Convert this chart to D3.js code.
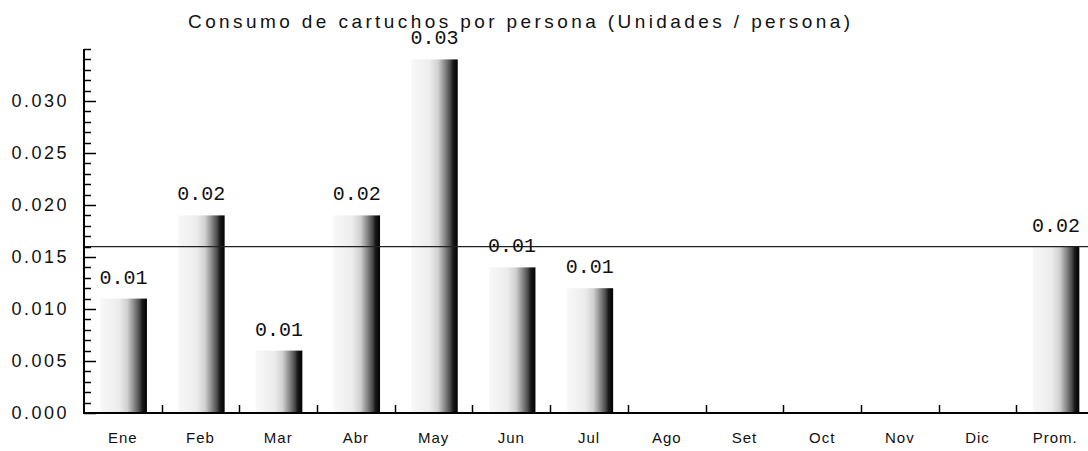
<!DOCTYPE html>
<html>
<head>
<meta charset="utf-8">
<script src="https://cdn.jsdelivr.net/npm/d3@7"></script>
<style>
  html, body { margin: 0; padding: 0; background: #fff; }
  svg { display: block; }
</style>
</head>
<body>
<svg id="chart" width="1088" height="451"></svg>
<script>
const categories = ["Ene","Feb","Mar","Abr","May","Jun","Jul","Ago","Set","Oct","Nov","Dic","Prom."];
const values = [0.011, 0.019, 0.006, 0.019, 0.034, 0.014, 0.012, null, null, null, null, null, 0.016];
const averageValue = [0.016];
const yMajorTicks = [0, 0.005, 0.010, 0.015, 0.020, 0.025, 0.030];
const yTickLabels = ["0.000","0.005","0.010","0.015","0.020","0.025","0.030"];
const titleText = "Consumo de cartuchos por persona (Unidades / persona)";

const svg = d3.select("#chart");
const left = 84, baseY = 413, topY = 49;
const bandW = 77.7;

const x = d3.scaleBand().domain(categories).range([left, left + categories.length * bandW]).padding(0);
const y = d3.scaleLinear().domain([0, 0.035]).range([baseY, topY]);

// gradient
const defs = svg.append("defs");
const grad = defs.append("linearGradient").attr("id", "barGrad").attr("x1", "0%").attr("x2", "100%").attr("y1", "0%").attr("y2", "0%");
[[0, "#f8f8f8"], [0.4, "#ececec"], [0.58, "#d0d0d0"], [0.72, "#8a8a8a"], [0.84, "#4a4a4a"], [0.9, "#1a1a1a"], [1, "#000"]]
  .forEach(([o, c]) => grad.append("stop").attr("offset", o).attr("stop-color", c));

// title
svg.append("text")
  .attr("x", 519).attr("y", 28)
  .attr("text-anchor", "middle")
  .attr("font-family", "Liberation Sans, Arial, sans-serif")
  .attr("font-size", 19)
  .attr("fill", "#111")
  .attr("textLength", 662)
  .attr("lengthAdjust", "spacing")
  .text(titleText);

// bars
const data = categories.map((c, i) => ({ c, v: values[i] })).filter(d => d.v != null);
const bw = x.bandwidth();
svg.append("g").selectAll("rect").data(data).join("rect")
  .attr("x", d => x(d.c) + bw * 0.21)
  .attr("width", bw * 0.6)
  .attr("y", d => y(d.v))
  .attr("height", d => y(0) - y(d.v))
  .attr("fill", "url(#barGrad)");

// average line
svg.append("line")
  .attr("x1", left).attr("x2", 1088)
  .attr("y1", y(averageValue[0])).attr("y2", y(averageValue[0]))
  .attr("stroke", "#222").attr("stroke-width", 1.2);

// value labels
const fmt = d3.format(".2f");
svg.append("g").selectAll("text").data(data).join("text")
  .attr("x", d => x(d.c) + bw * 0.51)
  .attr("y", d => y(d.v) - 15)
  .attr("text-anchor", "middle")
  .attr("font-family", "Liberation Mono, Courier New, monospace")
  .attr("font-size", 20)
  .attr("fill", "#111")
  .text(d => fmt(d.v));

// y axis
const yAxisG = svg.append("g");
yAxisG.append("line").attr("x1", left).attr("x2", left).attr("y1", topY).attr("y2", baseY + 1)
  .attr("stroke", "#000").attr("stroke-width", 2);
const minorTicks = d3.range(0, 36).map(i => i / 1000);
yAxisG.selectAll("line.minor").data(minorTicks).join("line").attr("class", "minor")
  .attr("x1", left).attr("x2", d => (yMajorTicks.some(t => Math.abs(t - d) < 1e-9) ? left + 12 : left + 7))
  .attr("y1", d => Math.round(y(d)) + 0.5).attr("y2", d => Math.round(y(d)) + 0.5)
  .attr("stroke", "#000").attr("stroke-width", 1.5);
yAxisG.selectAll("text").data(yMajorTicks).join("text")
  .attr("x", 69).attr("y", d => y(d))
  .attr("dy", "0.35em")
  .attr("text-anchor", "end")
  .attr("font-family", "Liberation Sans, Arial, sans-serif")
  .attr("font-size", 18)
  .attr("letter-spacing", 2.5)
  .attr("fill", "#111")
  .text((d, i) => yTickLabels[i]);

// x axis
const xAxisG = svg.append("g");
xAxisG.append("line").attr("x1", left - 1).attr("x2", 1088).attr("y1", baseY).attr("y2", baseY)
  .attr("stroke", "#000").attr("stroke-width", 2);
xAxisG.selectAll("line.tick").data(categories.slice(1)).join("line").attr("class", "tick")
  .attr("x1", d => Math.round(x(d)) + 0.5).attr("x2", d => Math.round(x(d)) + 0.5)
  .attr("y1", baseY).attr("y2", baseY - 8)
  .attr("stroke", "#000").attr("stroke-width", 1.5);
xAxisG.selectAll("text").data(categories).join("text")
  .attr("x", d => x(d) + bw / 2)
  .attr("y", 443)
  .attr("text-anchor", "middle")
  .attr("font-family", "Liberation Sans, Arial, sans-serif")
  .attr("font-size", 15)
  .attr("letter-spacing", 1)
  .attr("fill", "#111")
  .text(d => d);
</script>
</body>
</html>
